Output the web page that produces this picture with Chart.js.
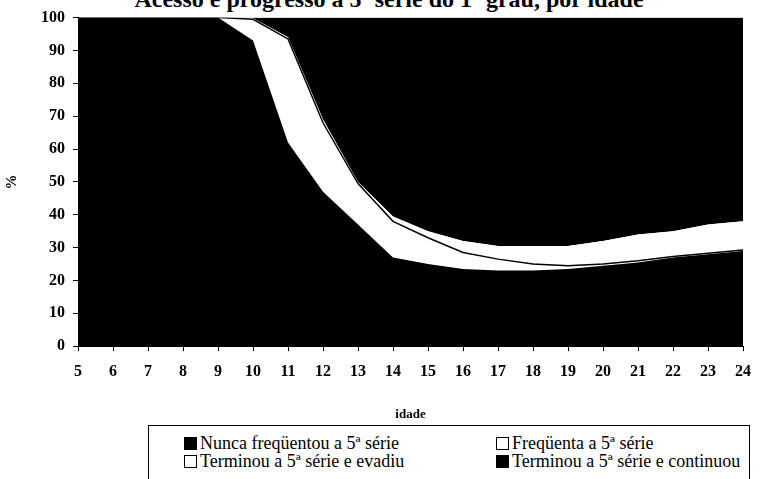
<!DOCTYPE html>
<html>
<head>
<meta charset="utf-8">
<script src="https://cdn.jsdelivr.net/npm/chart.js@4"></script>
<style>
  body { margin: 0; background: #fff; }
  #wrap { position: relative; width: 762px; height: 479px; overflow: hidden; font-family: "Liberation Serif", "DejaVu Serif", serif; }
  #title { position: absolute; top: -14px; left: 8px; width: 762px; text-align: center; font-weight: bold; font-size: 24px; white-space: nowrap; }
  #chartBox { position: absolute; left: 0; top: 0; width: 762px; height: 422px; }
  #legend { position: absolute; left: 148px; top: 425px; width: 602px; height: 70px; border: 1.5px solid #000; box-sizing: border-box; }
  .item { position: absolute; font-size: 18px; line-height: 20px; white-space: nowrap; }
  .box { display: inline-block; width: 11px; height: 11px; border: 1px solid #000; margin-right: 3px; vertical-align: -1px; }
</style>
</head>
<body>
<div id="wrap">
  <div id="title">Acesso e progresso à 5ª série do 1º grau, por idade</div>
  <div id="chartBox"><canvas id="chart"></canvas></div>
  <div id="legend"></div>
</div>
<script>
const ages = ['5','6','7','8','9','10','11','12','13','14','15','16','17','18','19','20','21','22','23','24']
const nunca = [100, 100, 100, 100, 100, 93, 62, 47, 37, 27, 25, 23.5, 23, 23, 23.5, 24.5, 25.5, 27, 28, 29]
const frequenta = [0, 0, 0, 0, 0, 6.5, 31.5, 21, 12.5, 11, 8, 5, 3.5, 2, 1, 0.5, 0.5, 0.3, 0.3, 0.3]
const evadiu = [0, 0, 0, 0, 0, 0.3, 0.5, 1, 0.5, 1.5, 2, 3.5, 4, 5.5, 6, 7, 8, 7.7, 8.7, 8.7]
const continuou = [0, 0, 0, 0, 0, 0.2, 6, 31, 50, 60.5, 65, 68, 69.5, 69.5, 69.5, 68, 66, 65, 63, 62]
const yTicks = [0, 10, 20, 30, 40, 50, 60, 70, 80, 90, 100]

const series = [
  { label: 'Nunca freqüentou a 5ª série', data: nunca, color: '#000' },
  { label: 'Freqüenta a 5ª série', data: frequenta, color: '#fff' },
  { label: 'Terminou a 5ª série e evadiu', data: evadiu, color: '#fff' },
  { label: 'Terminou a 5ª série e continuou', data: continuou, color: '#000' }
]

const serif = '"Liberation Serif", "DejaVu Serif", serif'

const chart = new Chart(document.getElementById('chart'), {
  type: 'line',
  data: {
    labels: ages,
    datasets: series.map((s, i) => ({
      label: s.label,
      data: s.data,
      backgroundColor: s.color,
      borderColor: '#000',
      borderWidth: i === 1 ? 1.5 : 0,
      fill: i === 0 ? 'origin' : '-1',
      pointRadius: 0,
      tension: 0
    }))
  },
  options: {
    responsive: true,
    maintainAspectRatio: false,
    animation: false,
    layout: { padding: { top: 15, right: 8, left: 3, bottom: 0 } },
    scales: {
      x: {
        offset: false,
        grid: { display: true, drawOnChartArea: false, drawTicks: true, tickLength: 5, color: '#000' },
        border: { display: true, color: '#000', width: 1 },
        ticks: { color: '#000', font: { family: serif, size: 16, weight: 'bold' }, padding: 11, maxRotation: 0, autoSkip: false },
        title: { display: true, text: 'idade', color: '#000', font: { family: serif, size: 13, weight: 'bold' }, padding: { top: 14, bottom: 0 } }
      },
      y: {
        stacked: true,
        min: 0,
        max: 100,
        afterBuildTicks: axis => { axis.ticks = yTicks.map(v => ({ value: v })) },
        grid: { display: true, drawOnChartArea: false, drawTicks: true, tickLength: 5, color: '#000' },
        border: { display: true, color: '#000', width: 1 },
        ticks: { color: '#000', font: { family: serif, size: 16, weight: 'bold' }, padding: 8 },
        title: { display: true, text: '%', color: '#000', font: { family: serif, size: 15, weight: 'bold' }, padding: { top: 0, bottom: 12 } }
      }
    },
    plugins: {
      legend: { display: false },
      title: { display: false },
      tooltip: { enabled: false }
    }
  }
})

// legend in two columns, built from the datasets
const legendEl = document.getElementById('legend')
const spots = [[35, 7], [347, 7], [35, 25], [347, 25]]
chart.data.datasets.forEach((ds, i) => {
  const item = document.createElement('div')
  item.className = 'item'
  item.style.left = spots[i][0] + 'px'
  item.style.top = spots[i][1] + 'px'
  const box = document.createElement('span')
  box.className = 'box'
  box.style.background = ds.backgroundColor
  item.appendChild(box)
  item.appendChild(document.createTextNode(ds.label))
  legendEl.appendChild(item)
})
</script>
</body>
</html>
